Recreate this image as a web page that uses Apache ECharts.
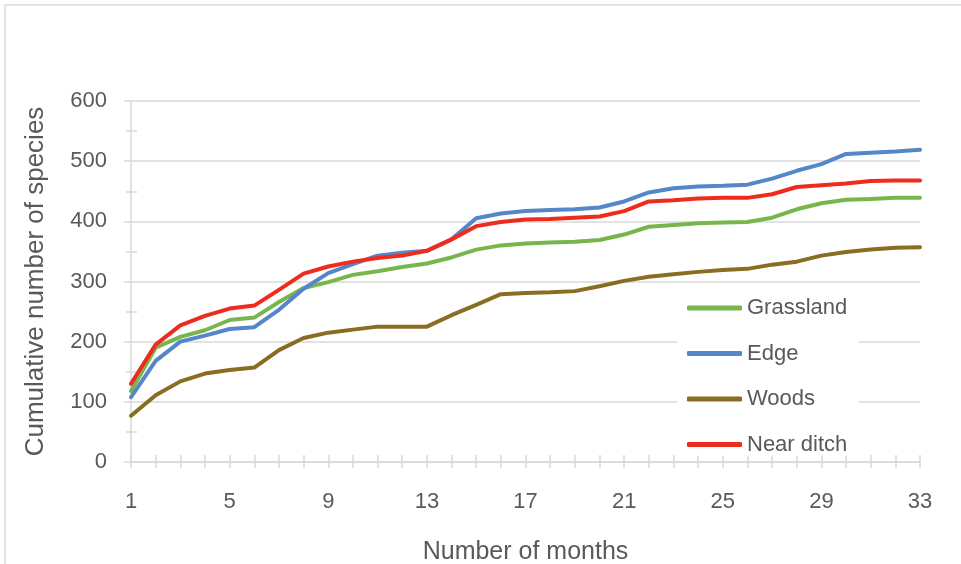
<!DOCTYPE html>
<html>
<head>
<meta charset="utf-8">
<script src="https://cdn.jsdelivr.net/npm/echarts@6/dist/echarts.min.js"></script>
<style>
html,body{margin:0;padding:0;background:#fff;}
#c{width:961px;height:564px;}
</style>
</head>
<body>
<div id="c"></div>
<script>
const months = [];
for (let m = 1; m <= 33; m++) months.push(String(m));
const seriesNames = ['Grassland', 'Edge', 'Woods', 'Near ditch'];
const grassland = [118, 190, 208, 219, 236, 240, 266, 289, 299, 311, 317, 324, 330, 340, 353, 360, 363, 365, 366, 369, 378, 391, 394, 397, 398, 399, 406, 420, 430, 436, 437, 439, 439];
const edge = [108, 168, 200, 210, 221, 224, 253, 288, 314, 329, 343, 348, 351, 370, 405, 413, 417, 419, 420, 423, 433, 448, 455, 458, 459, 461, 471, 484, 495, 512, 514, 516, 519];
const woods = [77, 111, 134, 147, 153, 157, 186, 206, 215, 220, 225, 225, 225, 244, 261, 279, 281, 282, 284, 292, 301, 308, 312, 316, 319, 321, 328, 333, 343, 349, 353, 356, 357];
const nearDitch = [130, 195, 227, 243, 255, 260, 286, 313, 325, 333, 339, 343, 351, 370, 392, 399, 403, 404, 406, 408, 417, 433, 435, 438, 439, 439, 445, 457, 460, 463, 467, 468, 468];
const yTicks = [0, 100, 200, 300, 400, 500, 600];

const colors = ['#78B64B', '#5586C9', '#8A6C22', '#EE2B1F'];
const FONT = '"Liberation Sans", Arial, sans-serif';
const TXT = '#595959';
const GRIDC = '#d9d9d9';

const chart = echarts.init(document.getElementById('c'), null, {renderer: 'canvas'});
const values = [grassland, edge, woods, nearDitch];

chart.setOption({
  animation: false,
  backgroundColor: '#ffffff',
  textStyle: {fontFamily: FONT},
  color: colors,
  grid: {left: 131, right: 41, top: 101, bottom: 102, containLabel: false, outerBoundsMode: 'none'},
  graphic: [
    {type: 'line', shape: {x1: 5, y1: 5, x2: 961, y2: 5}, style: {stroke: '#e3e3e3', lineWidth: 2}, silent: true},
    {type: 'line', shape: {x1: 5, y1: 5, x2: 5, y2: 564}, style: {stroke: '#e3e3e3', lineWidth: 2}, silent: true}
  ],
  legend: {
    orient: 'vertical',
    left: 677,
    top: 291,
    padding: [6, 12, 0, 10],
    backgroundColor: '#ffffff',
    itemWidth: 55,
    itemHeight: 5,
    itemGap: 23.5,
    icon: 'roundRect',
    textStyle: {fontSize: 22, color: TXT, fontFamily: FONT, padding: [0, 0, 0, 0]},
    data: seriesNames
  },
  xAxis: [
    {
      type: 'category',
      data: months,
      boundaryGap: false,
      name: 'Number of months',
      nameLocation: 'middle',
      nameGap: 78,
      nameTextStyle: {fontSize: 25, color: TXT, fontFamily: FONT},
      axisLine: {show: true, lineStyle: {color: GRIDC, width: 1.5}},
      axisTick: {show: true, interval: 0, length: 6, lineStyle: {color: GRIDC, width: 1.5}},
      axisLabel: {interval: 3, fontSize: 22, color: TXT, margin: 29, fontFamily: FONT},
      splitLine: {show: false}
    },
    {
      type: 'category',
      data: months,
      boundaryGap: false,
      position: 'bottom',
      axisLine: {show: false},
      axisTick: {show: true, inside: true, interval: 0, length: 7, lineStyle: {color: GRIDC, width: 1.5}},
      axisLabel: {show: false},
      splitLine: {show: false}
    }
  ],
  yAxis: [
    {
      type: 'value',
      min: yTicks[0],
      max: yTicks[yTicks.length - 1],
      interval: 100,
      name: 'Cumulative number of species',
      nameLocation: 'middle',
      nameGap: 82,
      nameTextStyle: {fontSize: 26, color: TXT, fontFamily: FONT},
      axisLine: {show: true, lineStyle: {color: GRIDC, width: 1.5}},
      axisTick: {show: true, length: 7, lineStyle: {color: GRIDC, width: 1.5}},
      minorTick: {show: true, splitNumber: 2, length: 5, lineStyle: {color: GRIDC, width: 1.5}},
      axisLabel: {fontSize: 22, color: TXT, margin: 24, fontFamily: FONT},
      splitLine: {show: true, lineStyle: {color: GRIDC, width: 1.5}}
    },
    {
      type: 'value',
      min: yTicks[0],
      max: yTicks[yTicks.length - 1],
      interval: 100,
      position: 'left',
      axisLine: {show: false},
      axisTick: {show: false, inside: true},
      minorTick: {show: true, splitNumber: 2, length: 6, lineStyle: {color: GRIDC, width: 1.5}},
      axisLabel: {show: false},
      splitLine: {show: false}
    }
  ],
  series: seriesNames.map((n, i) => ({
    name: n,
    type: 'line',
    data: values[i],
    showSymbol: false,
    symbol: 'none',
    lineStyle: {width: 4, color: colors[i], cap: 'round', join: 'round'},
    itemStyle: {color: colors[i]},
    z: 2 + i
  }))
});
</script>
</body>
</html>
